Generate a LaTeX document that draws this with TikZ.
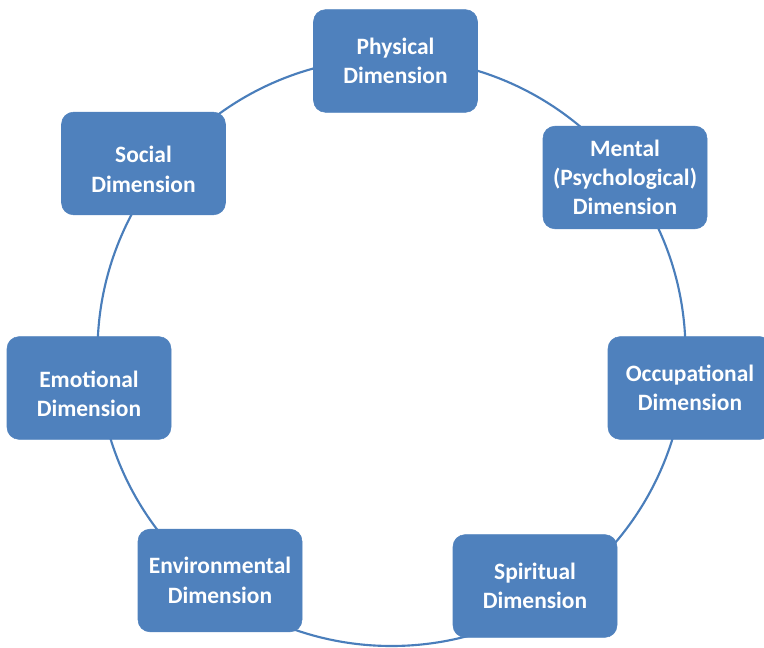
\documentclass[tikz,border=0pt]{standalone}
\usepackage{fontspec}
\setmainfont{Carlito}
\usepackage{tikz}
\usetikzlibrary{positioning}

\definecolor{dimblue}{HTML}{4F81BD}
\definecolor{ringblue}{HTML}{4A7EBB}

\begin{document}
\begin{tikzpicture}[
  x=0.75pt, y=-0.75pt,
  every node/.style={font=\fontsize{17.6}{22}\selectfont\bfseries},
  dimbox/.style={fill=dimblue, draw=dimblue, rounded corners=9pt, text=white,
    align=center, minimum width=123pt, minimum height=77pt, inner sep=0pt},
  dimtext/.style={text=white, align=center, inner sep=0pt, yshift=-4.5pt},
  ring/.style={draw=ringblue, line width=1.6pt},
  ]

\useasboundingbox (0,0) rectangle (764,648);

% Ring
\coordinate (hub) at (391.5,352);
\draw[ring] (hub) circle[radius=220.5pt];

% Nodes
\node[dimbox] (Physical) at (395.5,61) {Physical\\Dimension};
\node[dimbox] (Mental) at (625,177.5) {Mental\\(Psychological)\\Dimension};
\node[dimbox] (Occupational) at (690,388) {Occupational\\Dimension};
\node[dimbox] (Spiritual) at (535,586) {Spiritual\\Dimension};
\node[dimbox] (Environmental) at (220,580.5) {Environmental\\Dimension};
\node[dimbox, label={[dimtext]center:Emotional\\Dimension}] (Emotional) at (89,388) {};
\node[dimbox, label={[dimtext]center:Social\\Dimension}] (Social) at (143.5,163.5) {};

\end{tikzpicture}
\end{document}
